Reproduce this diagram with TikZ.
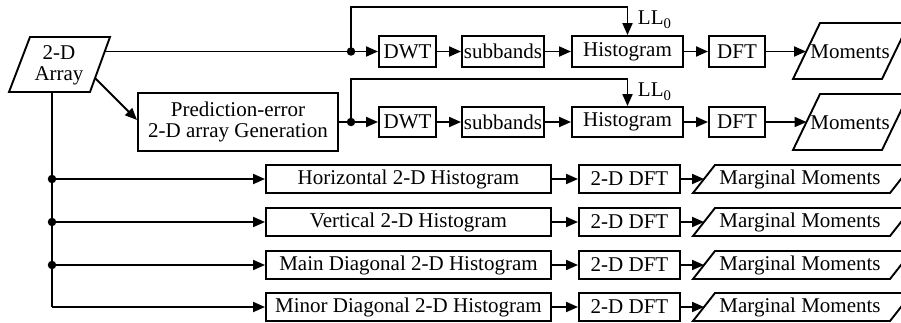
\documentclass[tikz,border=0pt]{standalone}
\usepackage{fontspec}
\setmainfont{Liberation Serif}
\usetikzlibrary{arrows.meta}
\begin{document}
\begin{tikzpicture}[x=1pt,y=-1pt,line width=1.9pt,
  font=\fontsize{21}{21}\selectfont,
  box/.style={draw, rectangle, inner sep=0pt},
  arr/.style={-{Triangle[length=12pt,width=10pt]}},
  jdot/.style={circle, fill, inner sep=0pt, minimum size=8.5pt},
  lbl/.style={inner sep=0pt},
  para/.style={draw, line join=miter}
]
\useasboundingbox (0,0) rectangle (901,323);
\clip (0,0) rectangle (901,323);

% ---- input parallelogram
\draw[para] (30,37) -- (110,37) -- (90,92) -- (9,92) -- cycle;
\node[lbl, align=center] (arr) at (59,65) {2-D\\Array};
\coordinate (arrR) at (105,51.5);
\coordinate (arrD) at (95,78);
\coordinate (arrB) at (52,92);

% ---- row 1
\node[box, minimum width=57pt, minimum height=31pt] (dwtA) at (407.5,51.5) {DWT};
\node[box, minimum width=82pt, minimum height=31pt] (subA) at (503,51.5) {subbands};
\node[box, minimum width=111pt, minimum height=31pt] (histA) at (627.5,51.5) {Histogram};
\node[box, minimum width=56pt, minimum height=31pt] (dftA) at (737,51.5) {DFT};
\draw[para] (820,23) -- (909,23) -- (882,79) -- (793,79) -- cycle;
\node[lbl] (momA) at (850,52) {Moments};
\coordinate (momAin) at (806,51.5);
\node[lbl, anchor=base west] (llA) at (637,25) {LL\textsubscript{0}};
\coordinate (topA) at (351,7);

% ---- prediction
\node[box, minimum width=200pt, minimum height=58pt, align=center] (pred) at (238,122) {Prediction-error\\2-D array Generation};
\coordinate (predIn) at (137,120);

% ---- row 2
\node[box, minimum width=57pt, minimum height=30pt] (dwtB) at (407.5,122) {DWT};
\node[box, minimum width=82pt, minimum height=30pt] (subB) at (503,122) {subbands};
\node[box, minimum width=111pt, minimum height=30pt] (histB) at (627.5,122) {Histogram};
\node[box, minimum width=56pt, minimum height=30pt] (dftB) at (737,122) {DFT};
\draw[para] (820,94) -- (909,94) -- (882,150) -- (793,150) -- cycle;
\node[lbl] (momB) at (850,123) {Moments};
\coordinate (momBin) at (806.5,122);
\node[lbl, anchor=base west] (llB) at (637,97) {LL\textsubscript{0}};
\coordinate (topB) at (351,79);

% ---- 2-D histogram rows
\foreach \n/\y/\t in {A/179/Horizontal 2-D Histogram, B/222/Vertical 2-D Histogram, C/265/Main Diagonal 2-D Histogram, D/307/Minor Diagonal 2-D Histogram}{
  \node[box, minimum width=285pt, minimum height=28pt] (h\n) at (408.5,\y) {\t};
  \node[box, minimum width=101pt, minimum height=28pt] (dd\n) at (629.5,\y) {2-D DFT};
  \draw[para] (715,\y-14) -- (912,\y-14) -- (890,\y+14) -- (693,\y+14) -- cycle;
  \node[lbl] (mm\n) at (800,\y) {Marginal Moments};
  \coordinate (mm\n in) at (704,\y);
  \draw[arr] (h\n) -- (dd\n);
  \draw[arr] (dd\n) -- (mm\n in);
}

% ---- connectors row 1
\coordinate (j1) at (351,51.5);
\draw (arrR) -- (j1);
\draw[arr] (j1) -- (dwtA);
\draw[arr] (j1) -- (topA) -| (histA.north);
\draw[arr] (dwtA) -- (subA);
\draw[arr] (subA) -- (histA);
\draw[arr] (histA) -- (dftA);
\draw[arr] (dftA) -- (momAin);
\node[jdot] (d1) at (j1) {};

% ---- connectors row 2
\draw[arr] (arrD) -- (predIn);
\coordinate (j2) at (351,122);
\draw (pred.east) -- (j2);
\draw[arr] (j2) -- (dwtB);
\draw[arr] (j2) -- (topB) -| (histB.north);
\draw[arr] (dwtB) -- (subB);
\draw[arr] (subB) -- (histB);
\draw[arr] (histB) -- (dftB);
\draw[arr] (dftB) -- (momBin);
\node[jdot] (d2) at (j2) {};

% ---- vertical bus
\coordinate (vbot) at (52,307);
\draw (arrB) -- (vbot);
\draw[arr] (vbot) -- (hD.west);
\foreach \n/\y in {A/179,B/222,C/265}{
  \coordinate (b\n) at (52,\y);
  \draw[arr] (b\n) -- (h\n.west);
  \node[jdot] (bd\n) at (b\n) {};
}
\end{tikzpicture}
\end{document}
